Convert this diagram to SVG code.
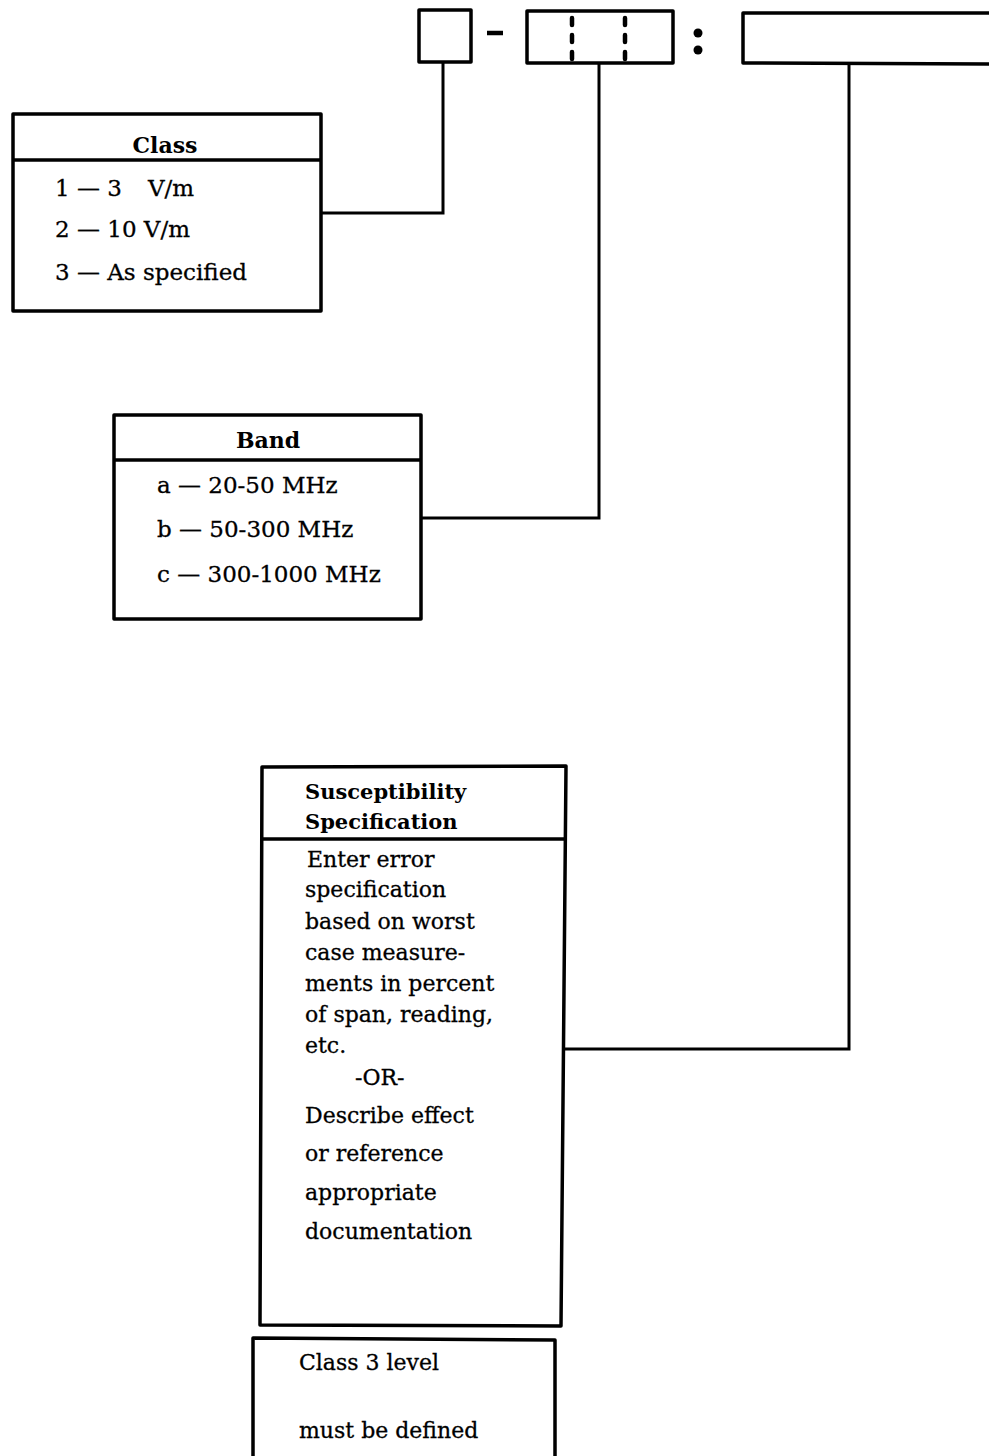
<svg xmlns="http://www.w3.org/2000/svg" width="989" height="1456" viewBox="0 0 989 1456">
<style>
.box{fill:none;stroke:#000;stroke-width:3.5;stroke-linejoin:round}
.conn{fill:none;stroke:#000;stroke-width:3}
.t{font-family:"DejaVu Serif","Liberation Serif",serif;font-size:22px;fill:#000;stroke:#000;stroke-width:0.3}
.t2{font-size:23px}
.h{font-family:"DejaVu Serif","Liberation Serif",serif;font-size:22px;font-weight:bold;fill:#000}
.h2{font-size:21px}
.dash{stroke:#000;stroke-width:4.5;stroke-linecap:round;stroke-dasharray:7 10}
</style>
<rect width="989" height="1456" fill="#fff"/>
<g id="code">
  <rect class="box" x="419" y="10" width="52" height="52"/>
  <line x1="487" y1="33" x2="503" y2="33" stroke="#000" stroke-width="4.5"/>
  <rect class="box" x="527" y="11" width="146" height="52"/>
  <line class="dash" x1="572" y1="18" x2="572" y2="60"/>
  <line class="dash" x1="625" y1="18" x2="625" y2="60"/>
  <circle cx="698" cy="33" r="4.5"/>
  <circle cx="698" cy="50" r="4.5"/>
  <path class="box" d="M995 13 L743 13 L743 63 L995 64"/>
</g>
<g id="class">
  <rect class="box" x="13" y="114" width="308" height="197"/>
  <line class="box" x1="13" y1="160" x2="321" y2="160"/>
  <text class="h" x="165" y="153" text-anchor="middle">Class</text>
  <text class="t t2" x="55" y="196">1 — 3</text>
  <text class="t t2" x="148" y="196">V/m</text>
  <text class="t t2" x="55" y="237">2 — 10 V/m</text>
  <text class="t t2" x="55" y="280">3 — As specified</text>
</g>
<g id="band">
  <rect class="box" x="114" y="415" width="307" height="204"/>
  <line class="box" x1="114" y1="460" x2="421" y2="460"/>
  <text class="h" x="268" y="448" text-anchor="middle">Band</text>
  <text class="t t2" x="157" y="493">a — 20-50 MHz</text>
  <text class="t t2" x="157" y="537">b — 50-300 MHz</text>
  <text class="t t2" x="157" y="582">c — 300-1000 MHz</text>
</g>
<g id="susceptibility">
  <path class="box" d="M262 767 L566 766 L561 1326 L260 1325 Z"/>
  <line class="box" x1="262" y1="839" x2="565" y2="839"/>
  <text class="h h2" x="305" y="799">Susceptibility</text>
  <text class="h h2" x="305" y="829">Specification</text>
  <text class="t" x="307" y="867">Enter error</text>
  <text class="t" x="305" y="897">specification</text>
  <text class="t" x="305" y="929">based on worst</text>
  <text class="t" x="305" y="960">case measure-</text>
  <text class="t" x="305" y="991">ments in percent</text>
  <text class="t" x="305" y="1022">of span, reading,</text>
  <text class="t" x="305" y="1053">etc.</text>
  <text class="t" x="355" y="1085">-OR-</text>
  <text class="t" x="305" y="1123">Describe effect</text>
  <text class="t" x="305" y="1161">or reference</text>
  <text class="t" x="305" y="1200">appropriate</text>
  <text class="t" x="305" y="1239">documentation</text>
</g>
<g id="note">
  <path class="box" d="M253 1462 L253 1338 L555 1340 L555 1462"/>
  <text class="t" x="299" y="1370">Class 3 level</text>
  <text class="t" x="299" y="1438">must be defined</text>
</g>
<g id="connectors">
  <polyline class="conn" points="443,62 443,213 321,213"/>
  <polyline class="conn" points="599,63 599,518 421,518"/>
  <polyline class="conn" points="849,64 849,1049 563,1049"/>
</g>
</svg>
